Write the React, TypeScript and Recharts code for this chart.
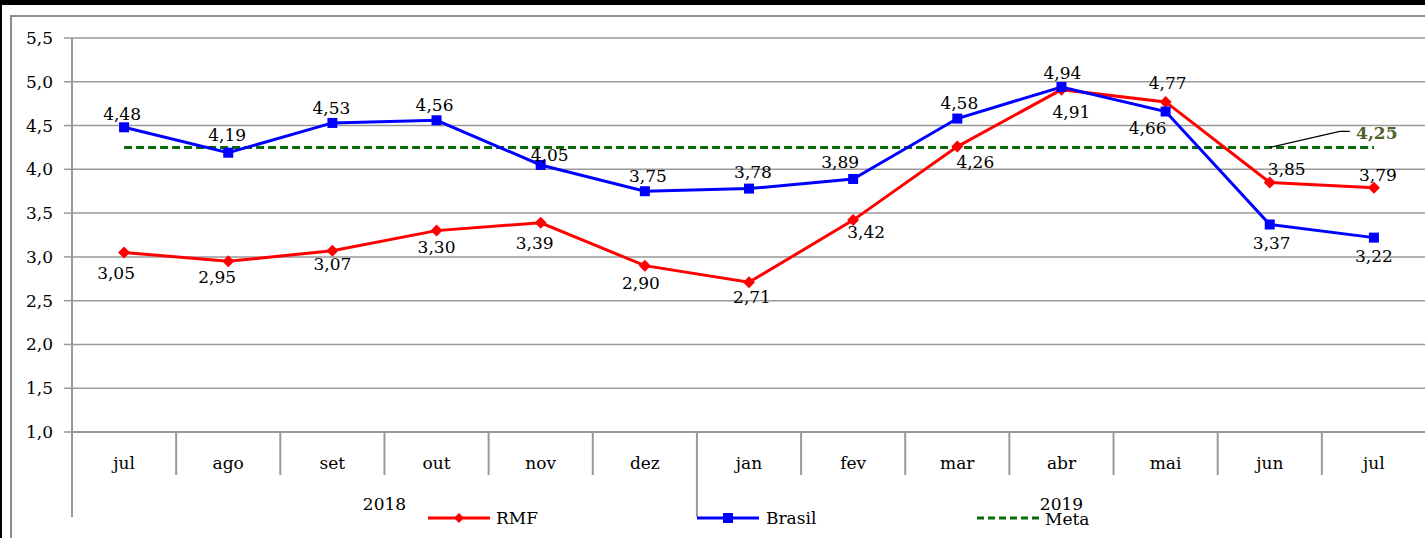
import React from "react";
import {
  LineChart,
  Line,
  XAxis,
  YAxis,
  CartesianGrid,
  LabelList,
  Legend,
} from "recharts";

const months = ["jul", "ago", "set", "out", "nov", "dez", "jan", "fev", "mar", "abr", "mai", "jun", "jul"];
const rmf = [3.05, 2.95, 3.07, 3.3, 3.39, 2.9, 2.71, 3.42, 4.26, 4.91, 4.77, 3.85, 3.79];
const brasil = [4.48, 4.19, 4.53, 4.56, 4.05, 3.75, 3.78, 3.89, 4.58, 4.94, 4.66, 3.37, 3.22];
const meta = 4.25;
const years = ["2018", "2019"];
const yearSpans = [6, 7];
const yTicks = [1, 1.5, 2, 2.5, 3, 3.5, 4, 4.5, 5, 5.5];

const data = months.map((m, i) => ({ i, month: m, rmf: rmf[i], brasil: brasil[i], meta }));

// label placement (dx, dy) relative to each point
const rmfLabelOffset = [
  [-8, 20], [-11, 16], [0, 13], [0, 16], [-6, 20], [-4, 17], [3, 15],
  [13, 12], [18, 15], [10, 22], [2, -19], [17, -13], [4, -13],
];
const brasilLabelOffset = [
  [-2, -13], [-1, -18], [-1, -15], [-2, -15], [9, -10], [3, -15], [4, -17],
  [-13, -17], [2, -16], [1, -14], [-18, 16], [2, 19], [0, 18],
];

const FONT = "'DejaVu Serif', serif";
const GRID = "#999999";
const RED = "#FF0000";
const BLUE = "#0000FF";
const GREEN = "#0A6A0A";
const CHART_W = 1426;
const CHART_H = 538;
const PLOT_LEFT = 72;
const BAND = (CHART_W - PLOT_LEFT) / months.length;

const fmt = (v: number, d = 2) => v.toFixed(d).replace(".", ",");

const yearStarts = yearSpans.map((_, g) => yearSpans.slice(0, g).reduce((a, b) => a + b, 0));

function MonthTick(props: any) {
  const { x, y, payload } = props;
  const idx = Number(payload.value);
  const half = BAND / 2;
  const g = yearStarts.indexOf(idx);
  const isGroupEnd = yearStarts.includes(idx + 1);
  return (
    <g>
      <text x={x} y={y + 31} textAnchor="middle" dominantBaseline="central" fontSize={17} fontFamily={FONT} fill="#000">
        {months[idx]}
      </text>
      {idx === 0 && <line x1={x - half} x2={x - half} y1={y} y2={y + 85} stroke={GRID} strokeWidth={2} />}
      <line x1={x + half} x2={x + half} y1={y} y2={y + (isGroupEnd ? 85 : 43)} stroke={GRID} strokeWidth={2} />
      {g >= 0 && (
        <text
          x={x - half + (yearSpans[g] * BAND) / 2}
          y={y + 72}
          textAnchor="middle"
          dominantBaseline="central"
          fontSize={17}
          fontFamily={FONT}
          fill="#000"
        >
          {years[g]}
        </text>
      )}
    </g>
  );
}

const Diamond = ({ cx, cy, size = 6, color = RED }: any) => (
  <path d={`M${cx},${cy - size} L${cx + size},${cy} L${cx},${cy + size} L${cx - size},${cy} Z`} fill={color} />
);

const Square = ({ cx, cy, size = 5, color = BLUE }: any) => (
  <rect x={cx - size} y={cy - size} width={size * 2} height={size * 2} fill={color} />
);

const valueLabel = (offsets: number[][]) => (props: any) => {
  const { x, y, value, index } = props;
  const [dx, dy] = offsets[index];
  return (
    <text x={x + dx} y={y + dy} textAnchor="middle" dominantBaseline="central" fontSize={17} fontFamily={FONT} fill="#000">
      {fmt(value)}
    </text>
  );
};

const metaLabel = (props: any) => {
  const { x, y, value, index } = props;
  if (index !== 11) return null;
  return (
    <g>
      <polyline points={`${x},${y} ${x + 70},${y - 16} ${x + 80},${y - 16}`} fill="none" stroke="#000" strokeWidth={1.2} />
      <text x={x + 107} y={y - 14} textAnchor="middle" dominantBaseline="central" fontSize={17} fontWeight="bold" fontFamily={FONT} fill="#4F6228">
        {fmt(value)}
      </text>
    </g>
  );
};

const legendX = [428, 697, 977];

const renderLegend = () => (
  <svg width={CHART_W} height={24} style={{ display: "block" }}>
    <g transform={`translate(${legendX[0]},12)`}>
      <line x1={0} x2={62} y1={0} y2={0} stroke={RED} strokeWidth={3} />
      <Diamond cx={31} cy={0} size={5} />
      <text x={68} y={0} dominantBaseline="central" fontSize={17} fontFamily={FONT}>RMF</text>
    </g>
    <g transform={`translate(${legendX[1]},12)`}>
      <line x1={0} x2={62} y1={0} y2={0} stroke={BLUE} strokeWidth={3} />
      <Square cx={31} cy={0} size={5} />
      <text x={69} y={0} dominantBaseline="central" fontSize={17} fontFamily={FONT}>Brasil</text>
    </g>
    <g transform={`translate(${legendX[2]},12)`}>
      <line x1={0} x2={63} y1={0} y2={0} stroke={GREEN} strokeWidth={3} strokeDasharray="7 4" />
      <text x={68} y={1} dominantBaseline="central" fontSize={17} fontFamily={FONT}>Meta</text>
    </g>
  </svg>
);

export default function App() {
  return (
    <div
      style={{
        position: "absolute",
        left: 0,
        top: 0,
        width: 1425,
        height: 538,
        overflow: "hidden",
        background: "#fff",
      }}
    >
      <div style={{ position: "absolute", left: 0, top: 0, width: 1425, height: 5, background: "#000" }} />
      <div style={{ position: "absolute", left: 0, top: 0, width: 2, height: 538, background: "#000" }} />
      <div
        style={{
          position: "absolute",
          left: 10,
          top: 15,
          width: 1500,
          height: 600,
          borderLeft: "2px solid #8c8c8c",
          borderTop: "2px solid #8c8c8c",
        }}
      />
      <div style={{ position: "absolute", left: 0, top: 0 }}>
        <LineChart width={CHART_W} height={CHART_H} data={data} margin={{ top: 38, right: 0, bottom: 0, left: 10 }}>
          <CartesianGrid vertical={false} stroke={GRID} strokeWidth={1.5} />
          <XAxis
            dataKey="i"
            type="category"
            scale="band"
            interval={0}
            height={106}
            tickSize={0}
            tickMargin={0}
            tickLine={false}
            axisLine={{ stroke: GRID, strokeWidth: 2 }}
            tick={<MonthTick />}
          />
          <YAxis
            type="number"
            domain={[1, 5.5]}
            ticks={yTicks}
            width={62}
            tickSize={8}
            tickMargin={11}
            tickFormatter={(v: number) => fmt(v, 1)}
            axisLine={{ stroke: GRID, strokeWidth: 2 }}
            tickLine={{ stroke: GRID, strokeWidth: 1.5 }}
            tick={{ fill: "#000", fontSize: 17, fontFamily: FONT }}
          />
          <Legend
            layout="horizontal"
            verticalAlign="middle"
            align="center"
            content={renderLegend}
            wrapperStyle={{ top: 506, left: 0, width: CHART_W, height: 24 }}
          />
          <Line
            dataKey="meta"
            type="linear"
            stroke={GREEN}
            strokeWidth={3}
            strokeDasharray="8 4"
            dot={false}
            activeDot={false}
            isAnimationActive={false}
          >
            <LabelList dataKey="meta" content={metaLabel} />
          </Line>
          <Line
            dataKey="rmf"
            type="linear"
            stroke={RED}
            strokeWidth={3}
            dot={(p: any) => <Diamond key={`d${p.index}`} cx={p.cx} cy={p.cy} />}
            activeDot={false}
            isAnimationActive={false}
          >
            <LabelList dataKey="rmf" content={valueLabel(rmfLabelOffset)} />
          </Line>
          <Line
            dataKey="brasil"
            type="linear"
            stroke={BLUE}
            strokeWidth={3}
            dot={(p: any) => <Square key={`s${p.index}`} cx={p.cx} cy={p.cy} />}
            activeDot={false}
            isAnimationActive={false}
          >
            <LabelList dataKey="brasil" content={valueLabel(brasilLabelOffset)} />
          </Line>
        </LineChart>
      </div>
    </div>
  );
}
